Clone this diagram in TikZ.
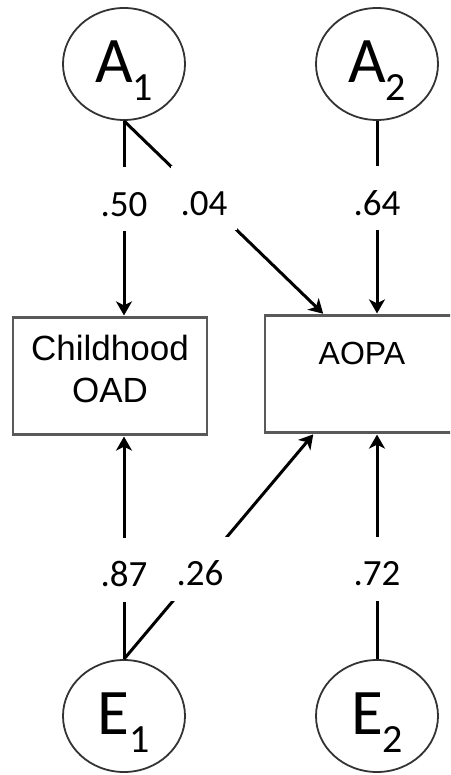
\documentclass[tikz,border=0pt]{standalone}
\usepackage{fontspec}
\setmainfont{Carlito}
\newfontfamily\boxfont{Liberation Sans}
\usetikzlibrary{arrows.meta,shapes.geometric,positioning}

\newcommand{\lowidx}[1]{\raisebox{-18pt}{\fontsize{40}{40}\selectfont #1}}

\begin{document}
\begin{tikzpicture}[x=1pt,y=-1pt,>={Stealth[length=14pt,width=16pt,inset=4pt]},shorten >=1pt,node distance=253pt,
    latent/.style={ellipse,draw=black!80,line width=1.8pt,minimum width=122pt,minimum height=112pt,inner sep=0pt,
      font=\fontsize{65}{65}\selectfont,text depth=4pt},
    observed/.style={rectangle,draw=black!65,line width=2.2pt,minimum width=194pt,minimum height=117pt,align=center,
      font=\boxfont\fontsize{35}{42}\selectfont},
    coef/.style={fill=white,inner xsep=10pt,inner ysep=0pt,text height=49pt,text depth=15pt,
      font=\fontsize{37}{37}\selectfont}]
    \clip (0,0) rectangle (450,775);

    \node[latent] (A1) at (124,64) {A\lowidx{1}};
    \node[latent] (A2) [right of=A1] {A\lowidx{2}};
    \node[observed,text depth=14pt] (OAD) at (110,376) {Childhood\\OAD};
    \node[observed,text depth=41pt,font=\boxfont\fontsize{32}{38}\selectfont] (AOPA) at (362,374) {AOPA};
    \node[latent] (E1) at (124,716) {E\lowidx{1}};
    \node[latent] (E2) [right of=E1] {E\lowidx{2}};

    \coordinate[xshift=60pt] (inA) at (AOPA.north west);
    \coordinate[xshift=50pt] (inE) at (AOPA.south west);

    \path[->,line width=3pt]
    (A1.south) edge node[coef,pos=.4] {.50} (A1.south |- OAD.north)
    (A1.south) edge node[coef,pos=.4] {.04} (inA)
    (A2.south) edge node[coef,pos=.4] {.64} (A2.south |- AOPA.north)

    (E1.north) edge node[coef,pos=.4] {.87} (E1.north |- OAD.south)
    (E1.north) edge node[coef,pos=.4] {.26} (inE)
    (E2.north) edge node[coef,pos=.4] {.72} (E2.north |- AOPA.south)
    ;
\end{tikzpicture}
\end{document}
